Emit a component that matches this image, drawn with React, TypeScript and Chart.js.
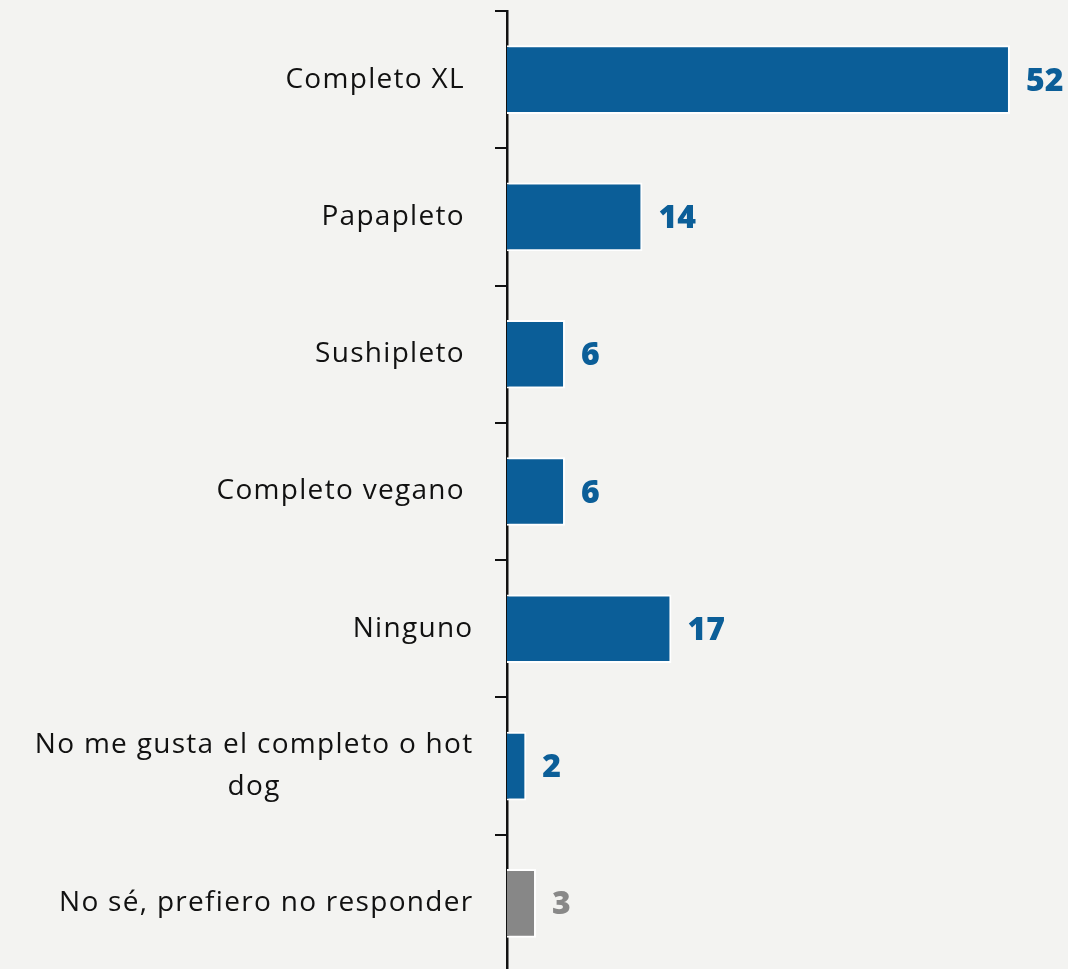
import React, { useEffect, useRef } from "react";
import { Chart, registerables } from "chart.js";

Chart.register(...registerables);

const categories: (string | string[])[] = [
  "Completo XL ",
  "Papapleto ",
  "Sushipleto ",
  "Completo vegano ",
  "Ninguno",
  ["No me gusta el completo o hot", "dog"],
  "No sé, prefiero no responder",
];
const values = [52, 14, 6, 6, 17, 2, 3];
const valueLabels = ["52", "14", "6", "6", "17", "2", "3"];
const barColors = ["#0b5e98", "#0b5e98", "#0b5e98", "#0b5e98", "#0b5e98", "#0b5e98", "#878787"];
const labelColors = ["#0b5e98", "#0b5e98", "#0b5e98", "#0b5e98", "#0b5e98", "#0b5e98", "#888888"];

const BG = "#f3f3f1";
const AXIS_X = 507;
const TICK_LEN = 12;
const LABEL_PAD = 21.5;

export default function App() {
  const ref = useRef<HTMLCanvasElement | null>(null);

  useEffect(() => {
    if (!ref.current) return;

    const yLabelPlugin = {
      id: "yLabels",
      afterDraw(chart: any) {
        const ctx = chart.ctx;
        const yScale = chart.scales.y;
        const right = yScale.right - TICK_LEN - LABEL_PAD;
        ctx.save();
        ctx.font = '400 28px "Open Sans", sans-serif';
        try {
          (ctx as any).letterSpacing = "1.3px";
        } catch (e) {}
        ctx.fillStyle = "#111111";
        ctx.textBaseline = "middle";
        const lineH = 42;
        categories.forEach((lab, i) => {
          const y = yScale.getPixelForValue(i);
          const lines = Array.isArray(lab) ? lab : [lab];
          if (lines.length === 1) {
            ctx.textAlign = "right";
            ctx.fillText(lines[0], right, y);
          } else {
            const w = Math.max(...lines.map((l) => ctx.measureText(l).width));
            const cx = right - w / 2;
            ctx.textAlign = "center";
            const y0 = y - ((lines.length - 1) * lineH) / 2;
            lines.forEach((l, k) => ctx.fillText(l, cx, y0 + k * lineH));
          }
        });
        ctx.restore();
      },
    };

    const valueLabelPlugin = {
      id: "valueLabels",
      afterDatasetsDraw(chart: any) {
        const ctx = chart.ctx;
        const meta = chart.getDatasetMeta(0);
        ctx.save();
        ctx.font = '800 32px "Open Sans", sans-serif';
        ctx.textAlign = "left";
        ctx.textBaseline = "middle";
        meta.data.forEach((el: any, i: number) => {
          ctx.fillStyle = labelColors[i];
          ctx.fillText(valueLabels[i], el.x + 16, el.y + 2);
        });
        ctx.restore();
      },
    };

    const chart = new Chart(ref.current, {
      type: "bar",
      data: {
        labels: categories as any,
        datasets: [
          {
            data: values,
            backgroundColor: barColors,
            borderColor: "#ffffff",
            borderWidth: 2,
            borderSkipped: "start",
            categoryPercentage: 1,
            barPercentage: 0.5,
          },
        ],
      },
      options: {
        indexAxis: "y",
        animation: false,
        responsive: true,
        maintainAspectRatio: false,
        layout: { padding: { top: 11, bottom: 0, left: 0, right: 0 } },
        plugins: {
          legend: { display: false },
          tooltip: { enabled: false },
        },
        scales: {
          x: {
            display: false,
            min: 0,
            max: 58,
          },
          y: {
            type: "category",
            offset: true,
            z: 1,
            afterFit: (scale: any) => {
              scale.width = AXIS_X;
            },
            grid: {
              offset: true,
              drawOnChartArea: false,
              drawTicks: true,
              tickLength: TICK_LEN,
              color: "#111111",
              lineWidth: 2,
            },
            border: { display: true, color: "#111111", width: 2.5 },
            ticks: { display: false },
          },
        },
      },
      plugins: [yLabelPlugin, valueLabelPlugin],
    } as any);

    return () => chart.destroy();
  }, []);

  return (
    <div
      style={{
        position: "absolute",
        left: 0,
        top: 0,
        width: 1068,
        height: 969,
        overflow: "hidden",
        background: BG,
      }}
    >
      <div style={{ position: "relative", width: 1068, height: 972 }}>
        <canvas ref={ref} />
      </div>
    </div>
  );
}
